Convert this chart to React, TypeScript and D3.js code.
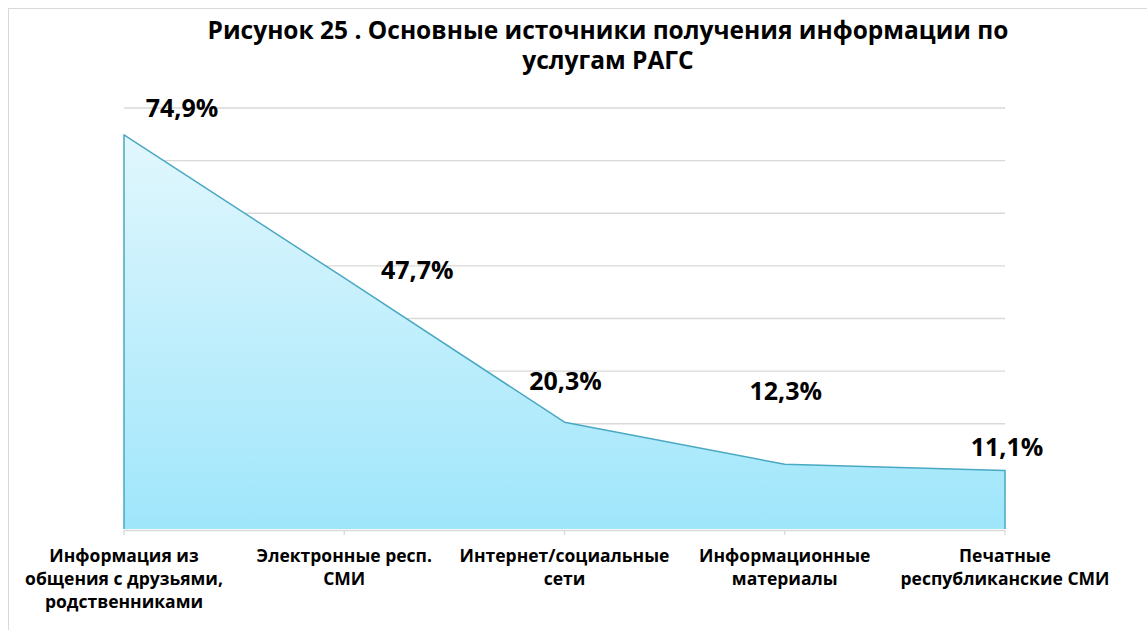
import * as d3 from "d3";

const categories = [
  ["Информация из", "общения с друзьями,", "родственниками"],
  ["Электронные респ.", "СМИ"],
  ["Интернет/социальные", "сети"],
  ["Информационные", "материалы"],
  ["Печатные", "республиканские СМИ"],
];
const values = [74.9, 47.7, 20.3, 12.3, 11.1];
const valueLabels = ["74,9%", "47,7%", "20,3%", "12,3%", "11,1%"];
const titleLines = ["Рисунок 25 . Основные источники получения информации по", "услугам РАГС"];
const yTicks = [0, 10, 20, 30, 40, 50, 60, 70, 80];

// label nudges, as in the original (labels were dragged by hand)
const labelOffsets = [
  [58, -18],
  [73, 1],
  [1, -32],
  [1, -64],
  [2, -15],
];

const width = 1147;
const height = 630;
const marginLeft = 124;
const marginRight = 142;
const marginTop = 108;
const marginBottom = 101;
const font = "'Open Sans', 'DejaVu Sans', sans-serif";

export default function App() {
  const x = d3
    .scalePoint<number>()
    .domain(values.map((_, i) => i))
    .range([marginLeft, width - marginRight]);

  const y = d3
    .scaleLinear()
    .domain([0, 80])
    .range([height - marginBottom, marginTop]);

  const area = d3
    .area<number>()
    .x((_, i) => x(i)!)
    .y0(y(0))
    .y1((d) => y(d));

  const line = d3
    .line<number>()
    .x((_, i) => x(i)!)
    .y((d) => y(d));

  const outline =
    `M${x(0)},${y(0)}` + line(values)!.replace(/^M/, "L") + `L${x(values.length - 1)},${y(0)}`;

  return (
    <svg
      width={width}
      height={height}
      style={{ position: "absolute", left: 0, top: 0, background: "#fff" }}
      fontFamily={font}
    >
      <defs>
        <linearGradient id="fillGradArea" gradientUnits="userSpaceOnUse" x1="0" y1={y(values[0])} x2="0" y2={y(0)}>
          <stop offset="0%" stopColor="#e2f7fd" />
          <stop offset="100%" stopColor="#9fe6fb" />
        </linearGradient>
      </defs>

      <rect x={8.5} y={8.5} width={width + 10} height={height + 10} fill="none" stroke="#d9d9d9" />

      {titleLines.map((t, i) => (
        <text
          key={i}
          x={608}
          y={39 + i * 30}
          textAnchor="middle"
          fontSize={24.5}
          fontWeight="bold"
          fill="#000"
        >
          {t}
        </text>
      ))}

      {yTicks.slice(1).map((t) => (
        <line
          key={t}
          x1={marginLeft}
          x2={width - marginRight}
          y1={y(t)}
          y2={y(t)}
          stroke="#d9d9d9"
          strokeWidth={1.3}
        />
      ))}

      <path d={area(values)!} fill="url(#fillGradArea)" />
      <path d={outline} fill="none" stroke="#49a8c2" strokeWidth={1.5} strokeLinejoin="round" />

      <line
        x1={marginLeft}
        x2={width - marginRight}
        y1={y(0) + 1.5}
        y2={y(0) + 1.5}
        stroke="#d9d9d9"
        strokeWidth={1.3}
      />
      {values.map((_, i) => (
        <line
          key={i}
          x1={x(i)}
          x2={x(i)}
          y1={y(0) + 1.5}
          y2={y(0) + 6}
          stroke="#d9d9d9"
          strokeWidth={1.3}
        />
      ))}

      {values.map((v, i) => (
        <text
          key={i}
          x={x(i)! + labelOffsets[i][0]}
          y={y(v) + labelOffsets[i][1]}
          textAnchor="middle"
          fontSize={25}
          fontWeight="bold"
          fill="#000"
        >
          {valueLabels[i]}
        </text>
      ))}

      {categories.map((lines, i) =>
        lines.map((l, j) => (
          <text
            key={`${i}-${j}`}
            x={x(i)}
            y={y(0) + 33 + j * 23}
            textAnchor="middle"
            fontSize={17.5}
            fontWeight="bold"
            fill="#000"
          >
            {l}
          </text>
        ))
      )}
    </svg>
  );
}
